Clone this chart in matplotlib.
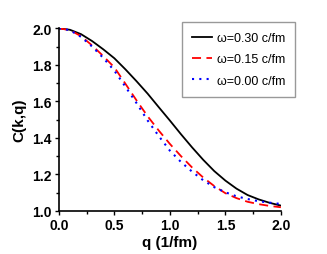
import matplotlib
matplotlib.use('Agg')
import matplotlib.pyplot as plt
from matplotlib.ticker import MultipleLocator

plt.rcParams['font.family'] = ['Liberation Sans', 'DejaVu Sans']

q = [0.0, 0.1, 0.2, 0.3, 0.4, 0.5, 0.6, 0.7, 0.8, 0.9, 1.0,
     1.1, 1.2, 1.3, 1.4, 1.5, 1.6, 1.7, 1.8, 1.9, 2.0]
c_030 = [2.0, 1.992, 1.968, 1.930, 1.885, 1.836, 1.775, 1.710, 1.642, 1.568, 1.495,
         1.420, 1.348, 1.280, 1.218, 1.166, 1.122, 1.087, 1.063, 1.044, 1.029]
c_015 = [2.0, 1.990, 1.957, 1.906, 1.848, 1.786, 1.696, 1.605, 1.518, 1.440, 1.367,
         1.300, 1.238, 1.183, 1.136, 1.097, 1.070, 1.050, 1.037, 1.027, 1.020]
c_000 = [2.0, 1.990, 1.953, 1.900, 1.838, 1.768, 1.680, 1.590, 1.495, 1.410, 1.330,
         1.268, 1.215, 1.168, 1.130, 1.102, 1.080, 1.065, 1.053, 1.045, 1.038]
labels = ['\u03c9=0.30 c/fm', '\u03c9=0.15 c/fm', '\u03c9=0.00 c/fm']

fig = plt.figure(figsize=(3.27, 2.55), dpi=100)
ax = fig.add_axes([0.18, 0.169, 0.679, 0.716])

ax.plot(q, c_030, color='black', lw=1.3, label=labels[0])
ax.plot(q, c_015, color='red', lw=1.3, ls=(0, (5, 3)), label=labels[1])
ax.plot(q, c_000, color='blue', lw=1.5, ls=(0, (1, 2.5)), label=labels[2])

ax.set_xlim(0, 2.0)
ax.set_ylim(1.0, 2.0)
ax.xaxis.set_major_locator(MultipleLocator(0.5))
ax.xaxis.set_minor_locator(MultipleLocator(0.25))
ax.yaxis.set_major_locator(MultipleLocator(0.2))
ax.yaxis.set_minor_locator(MultipleLocator(0.1))
ax.tick_params(which='both', direction='out', width=1, labelsize=10, pad=2)
ax.tick_params(which='major', length=3)
ax.tick_params(which='minor', length=2)
for t in ax.get_xticklabels() + ax.get_yticklabels():
    t.set_fontweight('bold')
ax.spines['top'].set_visible(False)
ax.spines['right'].set_visible(False)
ax.spines['left'].set_linewidth(1.2)
ax.spines['bottom'].set_linewidth(1.2)

ax.set_xlabel('q (1/fm)', fontsize=11, fontweight='bold', labelpad=2)
ax.set_ylabel('C(k,q)', fontsize=11, fontweight='bold', labelpad=4)

leg = ax.legend(loc='upper right', bbox_to_anchor=(1.064, 1.034), fontsize=9,
                fancybox=False, edgecolor='gray', handlelength=1.6,
                borderpad=0.8, labelspacing=0.75, handletextpad=0.4,
                borderaxespad=0)
leg.get_frame().set_linewidth(1.0)

fig.savefig('out.png', dpi=100)
